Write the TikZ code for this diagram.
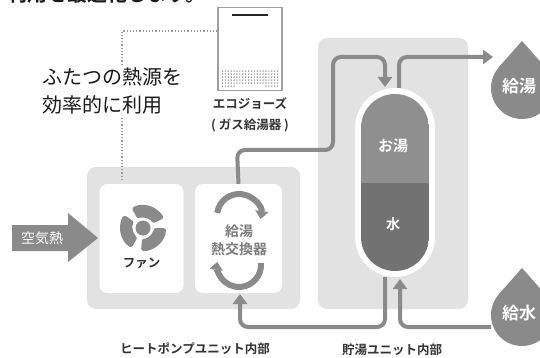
\documentclass[tikz,border=0pt]{standalone}
\usepackage{fontspec}
\setmainfont{Noto Sans CJK JP}
\newfontfamily\jpbold{Noto Sans CJK JP Bold}
\usetikzlibrary{arrows.meta,calc}
\definecolor{pipe}{HTML}{8A8A8A}
\definecolor{panel}{HTML}{E2E2E2}
\definecolor{hotw}{HTML}{8F8F8F}
\definecolor{coldw}{HTML}{727272}
\definecolor{ink}{HTML}{1A1A1A}
\definecolor{lbl}{HTML}{333333}
\tikzset{
  panelbox/.style={fill=panel, rounded corners=9pt},
  cardbox/.style={fill=white, rounded corners=8pt},
  pipeline/.style={draw=pipe, line width=4pt, rounded corners=8pt},
  pipetip/.style={-{Triangle[width=14pt,length=10pt]}},
  cyclearrow/.style={draw=pipe, line width=6pt, -{Triangle[width=13pt,length=8pt]}},
  guide/.style={draw=gray!80, line width=1.4pt, dash pattern=on 1.2pt off 2pt},
  partlabel/.style={font=\jpbold\fontsize{12.5}{14}\selectfont, text=lbl},
  whitelabel/.style={text=white},
  drop/.style={fill=pipe}
}
\begin{document}
\begin{tikzpicture}[x=1pt,y=-1pt]
\useasboundingbox[fill=white] (0,0) rectangle (540,358);

% headline running off the top edge
\node[font=\jpbold\fontsize{20}{22}\selectfont, text=ink, anchor=base west] (headline) at (4,2) {利用を最適化します。};

% panels
\fill[panelbox] (87,167) rectangle (300,309);
\fill[panelbox] (318,38) rectangle (468,309);
\node[cardbox, minimum width=84pt, minimum height=109pt] (fanbox) at (141.5,238.5) {};
\node[cardbox, minimum width=87pt, minimum height=109pt] (hxbox) at (238.5,238.5) {};

% gas water heater
\node[draw=gray!75, line width=1.1pt, fill=white, minimum width=64pt, minimum height=83pt, inner sep=0pt] (eco) at (250,49) {};
\draw[line width=2.6pt, black!85] ($(eco.north)+(-18,8)$) -- ($(eco.north)+(18,8)$);
\foreach \r in {0,...,4}{
  \foreach \c in {0,...,19}{
    \fill[gray!85] ($(eco.south west)+(5+\c*2.9,-20+\r*3)$) circle (0.8pt);
  }
}
\foreach \c in {0,...,4,15,16,17,18,19}{
  \fill[gray!85] ($(eco.south west)+(5+\c*2.9,-5)$) circle (0.8pt);
}
\node[partlabel, anchor=north] (ecolabel) at ($(eco.south)+(0,3)$) {エコジョーズ};
\node[partlabel, anchor=north] (ecosub) at ($(ecolabel.south)+(0,2)$) {( ガス給湯器 )};

% dotted guide and statement
\coordinate (gcorner) at (122,31);
\draw[guide] (eco.west |- gcorner) -- (gcorner) -- (122,180);
\node[fill=white, font=\fontsize{20}{28}\selectfont, text=ink, align=left, inner sep=3pt] (claim) at (112,91) {ふたつの熱源を\\効率的に利用};

% air heat arrow
\fill[pipe] (12,225) -- (68,225) -- (68,213) -- (98,238) -- (68,262) -- (68,251) -- (12,251) -- cycle;
\node[whitelabel, font=\fontsize{14}{16}\selectfont] (air) at (42,238) {空気熱};

% fan: hub and three blades (angles measured counter-clockwise on screen)
\begin{scope}[shift={(143,228)}]
  \foreach \a/\b in {25/120,145/240,265/360}{
    \fill[pipe, rounded corners=2.5pt] ({-\a}:10.5) arc[start angle=-\a, end angle=-\b, radius=10.5]
      -- ({-\b}:23) arc[start angle=-\b, end angle=-\a, radius=23] -- cycle;
  }
  \fill[pipe] (0,0) circle (7.5pt);
\end{scope}
\node[partlabel] (fanlabel) at (141.5,263) {ファン};

% heat exchanger
\draw[cyclearrow] (239,216) ++(188:22) arc[start angle=188, end angle=368, radius=22];
\draw[cyclearrow] (239,265) ++(-5:22) arc[start angle=-5, end angle=188, radius=22];
\node[partlabel, font=\jpbold\fontsize{14}{18}\selectfont, text=pipe!90!black, align=center] (hxlabel) at (239,240) {給湯\\熱交換器};

% storage tank
\fill[white, rounded corners=40pt] (355,88) rectangle (435,277);
\begin{scope}
  \clip[rounded corners=34pt] (361,94) rectangle (429,271);
  \fill[hotw] (361,94) rectangle (429,183);
  \fill[coldw] (361,183) rectangle (429,271);
\end{scope}
\node[whitelabel, font=\jpbold\fontsize{15}{17}\selectfont] (hot) at (393,146) {お湯};
\node[whitelabel, font=\jpbold\fontsize{14}{16}\selectfont] (cold) at (393,224) {水};

% drops
\fill[drop] (522,88) circle (31pt);
\fill[drop] (522,41) -- (499,67) -- (545,67) -- cycle;
\node[whitelabel, font=\jpbold\fontsize{17}{19}\selectfont] (hotdrop) at (519,86) {給湯};
\fill[drop] (522,315) circle (31pt);
\fill[drop] (522,268) -- (499,294) -- (545,294) -- cycle;
\node[whitelabel, font=\jpbold\fontsize{17}{19}\selectfont] (colddrop) at (519,313) {給水};

% pipes
\draw[pipeline, pipetip] (hxbox.north) -- (237,150) -- (333,150) -- (333,57) -- (385,57) -- (385,87);
\draw[pipeline, pipetip] (399,88) -- (399,57) -- (493,57);
\draw[pipeline, pipetip] (385,277) -- (385,327) -- (240,327) -- (240,294);
\draw[pipeline, pipetip] (491,327) -- (400,327) -- (400,279);

% unit captions
\node[partlabel] (hpcap) at (195,349) {ヒートポンプユニット内部};
\node[partlabel] (tankcap) at (392,350) {貯湯ユニット内部};
\end{tikzpicture}
\end{document}
